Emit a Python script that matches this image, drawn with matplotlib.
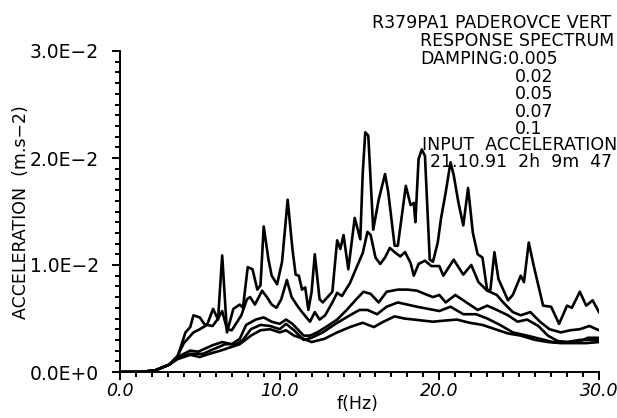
import numpy as np
import matplotlib
matplotlib.use("Agg")
import matplotlib.pyplot as plt
from matplotlib.ticker import MultipleLocator, FixedLocator, FixedFormatter

# response spectra, (frequency Hz, acceleration 1e-3 m.s-2) per damping value
damp_0005 = [
    (0, 0), (1.25, 0), (2.2, 0.15), (3.1, 0.7), (3.6, 1.4), (4.1, 3.7), (4.4, 4.2),
    (4.6, 5.3), (4.8, 5.2), (5.0, 5.1), (5.27, 4.5), (5.45, 4.4), (5.83, 5.9),
    (6.14, 4.9), (6.4, 10.9), (6.7, 3.7), (7.1, 5.9), (7.5, 6.3), (7.7, 6.0),
    (8.0, 9.8), (8.3, 9.6), (8.6, 7.7), (8.8, 8.1), (9.0, 13.6), (9.3, 10.5),
    (9.5, 9.0), (9.84, 8.2), (10.15, 10.3), (10.5, 16.1), (10.8, 11.5), (11.0, 9.1),
    (11.2, 9.0), (11.4, 7.7), (11.6, 7.9), (11.8, 5.8), (12.0, 7.5), (12.2, 11.0),
    (12.5, 6.8), (12.7, 6.5), (13.3, 7.5), (13.6, 12.3), (13.8, 11.5), (14.0, 12.8),
    (14.3, 9.6), (14.7, 14.4), (15.05, 12.4), (15.2, 18.5), (15.36, 22.4),
    (15.55, 22.1), (15.86, 13.3), (16.2, 16.1), (16.6, 18.5), (16.8, 16.8),
    (17.2, 11.8), (17.4, 11.8), (17.9, 17.4), (18.2, 15.6), (18.4, 15.8),
    (18.5, 14.0), (18.7, 19.9), (18.9, 20.8), (19.1, 20.2), (19.4, 10.5),
    (19.6, 10.3), (19.9, 12.1), (20.1, 14.3), (20.4, 16.8), (20.7, 19.6),
    (20.9, 18.4), (21.2, 15.8), (21.5, 13.7), (21.8, 17.2), (22.1, 13.0),
    (22.4, 11.0), (22.7, 10.7), (23.0, 7.6), (23.2, 7.7), (23.45, 11.2),
    (23.7, 8.7), (24.3, 6.7), (24.6, 7.2), (25.1, 9.0), (25.3, 8.4), (25.6, 12.1),
    (25.9, 10.0), (26.5, 6.2), (27.0, 6.1), (27.5, 4.5), (28.0, 6.2), (28.3, 6.0),
    (28.8, 7.5), (29.2, 6.2), (29.6, 6.7), (30.0, 5.6),
]
damp_002 = [
    (0, 0), (1.25, 0), (2.2, 0.15), (3.1, 0.7), (3.6, 1.5), (4.0, 2.7), (4.6, 3.7),
    (5.0, 4.0), (5.45, 4.4), (5.8, 4.3), (6.1, 4.9), (6.4, 5.7), (6.7, 4.0),
    (7.0, 3.9), (7.3, 4.6), (7.6, 5.3), (7.95, 6.8), (8.15, 7.0), (8.45, 6.3),
    (8.9, 7.6), (9.2, 7.0), (9.5, 6.3), (9.8, 6.0), (10.1, 6.8), (10.45, 8.6),
    (10.75, 7.0), (11.1, 6.2), (11.4, 5.6), (11.9, 4.7), (12.2, 5.6), (12.5, 4.9),
    (12.85, 5.3), (13.3, 6.5), (13.6, 7.4), (13.9, 7.1), (14.4, 8.3), (14.85, 9.9),
    (15.2, 11.1), (15.5, 13.1), (15.7, 12.8), (16.0, 10.7), (16.3, 10.1),
    (16.6, 10.7), (16.9, 11.6), (17.2, 11.2), (17.55, 10.8), (17.85, 11.2),
    (18.2, 10.2), (18.4, 9.0), (18.7, 10.1), (19.1, 10.4), (19.5, 9.9),
    (20.0, 9.9), (20.25, 9.0), (20.9, 10.5), (21.5, 9.1), (22.0, 10.0),
    (22.45, 8.4), (23.0, 7.6), (23.6, 7.2), (24.0, 6.5), (24.6, 5.6), (25.1, 5.3),
    (25.7, 5.6), (26.3, 4.7), (26.9, 4.0), (27.6, 3.7), (28.2, 3.9), (28.8, 4.0),
    (29.4, 4.3), (30.0, 3.9),
]
damp_005 = [
    (0, 0), (1.25, 0), (2.2, 0.15), (3.1, 0.7), (3.6, 1.4), (4.4, 2.0), (4.9, 1.9),
    (5.2, 2.1), (5.8, 2.5), (6.4, 2.8), (7.0, 2.6), (7.5, 3.1), (7.9, 4.4),
    (8.5, 4.9), (9.0, 5.1), (9.5, 4.7), (10.0, 4.5), (10.4, 4.9), (10.8, 4.5),
    (11.5, 3.4), (11.9, 3.4), (12.35, 3.7), (13.0, 4.3), (13.6, 4.9), (14.2, 5.8),
    (14.8, 6.8), (15.25, 7.5), (15.7, 7.3), (16.2, 6.5), (16.7, 7.5), (17.4, 7.7),
    (18.0, 7.7), (18.6, 7.6), (19.25, 7.2), (19.6, 7.0), (20.0, 7.2), (20.4, 6.5),
    (21.0, 7.2), (21.7, 6.5), (22.4, 5.8), (23.0, 6.2), (23.6, 5.8), (24.3, 5.3),
    (24.9, 4.7), (25.5, 4.9), (26.2, 4.3), (26.8, 3.4), (27.4, 2.9), (28.0, 2.8),
    (28.7, 2.8), (29.3, 3.2), (30.0, 3.2),
]
damp_007 = [
    (0, 0), (1.25, 0), (2.2, 0.15), (3.1, 0.7), (3.6, 1.3), (4.4, 1.7), (5.2, 1.7),
    (5.8, 2.1), (6.6, 2.6), (7.3, 2.6), (7.7, 3.0), (8.2, 4.0), (8.8, 4.4),
    (9.4, 4.3), (10.0, 4.0), (10.4, 4.5), (10.9, 3.9), (11.5, 3.0), (12.0, 3.2),
    (12.7, 3.7), (13.5, 4.5), (14.4, 5.3), (15.0, 5.8), (15.5, 5.8), (16.1, 5.4),
    (16.7, 6.1), (17.4, 6.5), (18.0, 6.3), (18.6, 6.1), (19.3, 5.9), (20.0, 5.7),
    (20.7, 6.1), (21.5, 5.4), (22.3, 5.4), (23.0, 5.0), (23.8, 4.4), (24.6, 3.7),
    (25.5, 3.4), (26.3, 3.1), (27.1, 2.8), (28.0, 2.8), (28.8, 3.0), (29.4, 3.0),
    (30.0, 3.0),
]
damp_01 = [
    (0, 0), (1.25, 0), (2.2, 0.15), (3.1, 0.7), (3.6, 1.2), (4.4, 1.6), (5.0, 1.4),
    (5.6, 1.7), (6.3, 2.0), (6.9, 2.3), (7.5, 2.6), (8.2, 3.4), (8.8, 3.9),
    (9.4, 4.0), (10.0, 3.7), (10.4, 3.9), (10.9, 3.4), (11.5, 3.1), (12.0, 2.8),
    (12.8, 3.1), (13.6, 3.7), (14.4, 4.2), (15.2, 4.6), (15.9, 4.2), (16.5, 4.7),
    (17.2, 5.2), (17.8, 5.0), (18.4, 4.9), (19.0, 4.8), (19.6, 4.7), (20.3, 4.8),
    (21.1, 4.9), (21.9, 4.6), (22.7, 4.4), (23.5, 4.0), (24.3, 3.6), (25.1, 3.4),
    (26.0, 3.0), (26.8, 2.8), (27.6, 2.7), (28.4, 2.7), (29.2, 2.7), (30.0, 2.8),
]

damping_labels = ["DAMPING:0.005", "0.02", "0.05", "0.07", "0.1"]
y_ticks = [0.0, 0.01, 0.02, 0.03]
y_tick_labels = ["0.0E+0", "1.0E\u22122", "2.0E\u22122", "3.0E\u22122"]
x_ticks = [0, 10, 20, 30]
x_tick_labels = ["0.0", "10.0", "20.0", "30.0"]

W, H = 617, 418
fig = plt.figure(figsize=(W / 100, H / 100), dpi=100)
plt.rcParams['font.family'] = ['DejaVu Sans']

# axes box in pixel coordinates
x0, x1 = 120, 599
y0, y1 = 372, 51
ax = fig.add_axes([x0 / W, 1 - y0 / H, (x1 - x0) / W, (y0 - y1) / H])

for curve in [damp_0005, damp_002, damp_005, damp_007, damp_01]:
    f, a = np.array(curve).T
    ax.plot(f, a * 1e-3, color='black', lw=1.9, solid_joinstyle='round')

ax.set_xlim(0, 30)
ax.set_ylim(0, 0.03)
for side in ['top', 'right']:
    ax.spines[side].set_visible(False)
for side in ['left', 'bottom']:
    ax.spines[side].set_linewidth(1.4)

ax.yaxis.set_major_locator(FixedLocator(y_ticks))
ax.yaxis.set_major_formatter(FixedFormatter(y_tick_labels))
ax.yaxis.set_minor_locator(MultipleLocator(0.001))
ax.xaxis.set_major_locator(FixedLocator(x_ticks))
ax.xaxis.set_major_formatter(FixedFormatter(x_tick_labels))
ax.xaxis.set_minor_locator(MultipleLocator(1))

ax.tick_params(axis='both', which='major', direction='out', length=6, width=1.4,
               labelsize=12.5)
ax.tick_params(axis='both', which='minor', direction='out', length=3.5, width=1.4)
ax.tick_params(axis='y', which='major', pad=9, labelsize=13.5)
ax.tick_params(axis='x', which='major', pad=1)
for lab in ax.get_xticklabels():
    lab.set_fontstyle('italic')

ax.set_xlabel("f(Hz)", fontsize=12.5)
ax.set_ylabel("ACCELERATION  (m.s\u22122)", fontsize=12.5)
ax.xaxis.set_label_coords((358 - x0) / (x1 - x0), -(404 - y0) / (y0 - y1))
ax.yaxis.set_label_coords((21 - x0) / (x1 - x0), (y0 - 212) / (y0 - y1))
ax.xaxis.label.set_va('center')
ax.yaxis.label.set_va('center')

# header block
fs = 12.5
def put(px, py, s):
    fig.text(px / W, 1 - py / H, s, fontsize=fs, ha='left', va='center')

put(372, 23, "R379PA1 PADEROVCE VERT")
put(420, 41.5, "RESPONSE SPECTRUM")
put(420, 59, damping_labels[0])
for i, s in enumerate(damping_labels[1:]):
    put(515, 77 + 17.4 * i, s)
put(422, 145.5, "INPUT  ACCELERATION")
put(430, 162, "21.10.91  2h  9m  47")

fig.savefig("out.png", dpi=100)
